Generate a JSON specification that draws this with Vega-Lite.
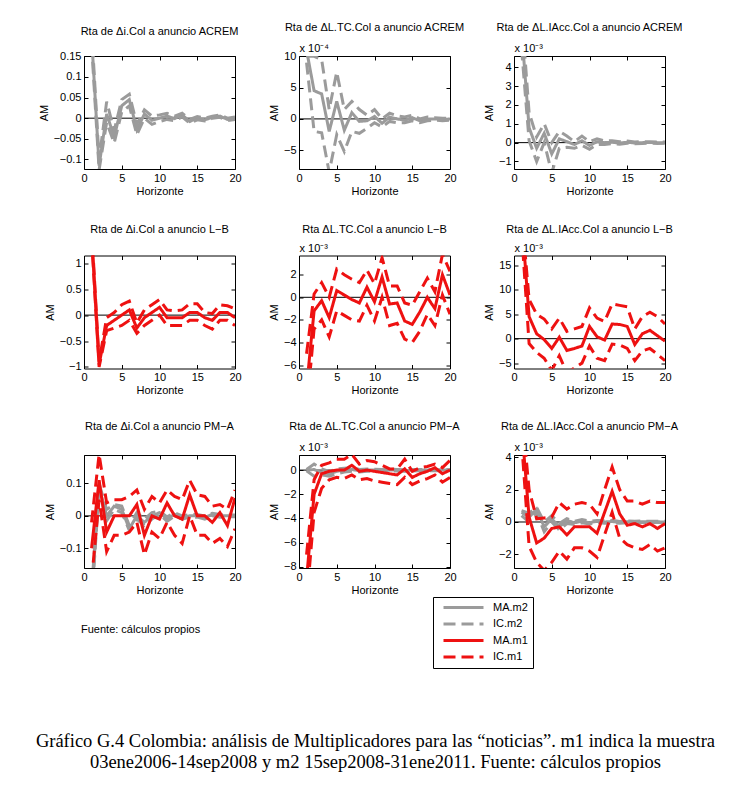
{
  "$schema": "https://vega.github.io/schema/vega-lite/v6.json",
  "background": "white",
  "padding": {"left": 35, "top": 21, "right": 5, "bottom": 5},
  "title": {
    "text": ["Gráfico G.4 Colombia: análisis de Multiplicadores para las “noticias”. m1 indica la muestra", "03ene2006-14sep2008 y m2 15sep2008-31ene2011. Fuente: cálculos propios"],
    "orient": "bottom", "anchor": "middle", "font": "Liberation Serif", "fontSize": 18.5, "fontWeight": "normal", "color": "black", "offset": 63, "lineHeight": 21, "dx": 15
  },
  "datasets": {
    "p11": [
      {"h":1,"ma2":0.2,"lo2":0.18,"up2":0.22},{"h":2,"ma2":-0.115,"lo2":-0.125,"up2":-0.1},{"h":3,"ma2":0.01,"lo2":-0.01,"up2":0.04},{"h":4,"ma2":-0.045,"lo2":-0.06,"up2":-0.03},{"h":5,"ma2":0.03,"lo2":0.015,"up2":0.045},{"h":6,"ma2":0.045,"lo2":0.03,"up2":0.058},{"h":7,"ma2":-0.028,"lo2":-0.04,"up2":-0.015},{"h":8,"ma2":0.01,"lo2":0.0,"up2":0.02},{"h":9,"ma2":-0.005,"lo2":-0.015,"up2":0.005},{"h":10,"ma2":0.0,"lo2":-0.008,"up2":0.008},
      {"h":11,"ma2":0.005,"lo2":-0.003,"up2":0.012},{"h":12,"ma2":-0.001,"lo2":-0.006,"up2":0.005},{"h":13,"ma2":0.008,"lo2":0.003,"up2":0.012},{"h":14,"ma2":-0.008,"lo2":-0.012,"up2":-0.003},{"h":15,"ma2":0.0,"lo2":-0.004,"up2":0.004},{"h":16,"ma2":-0.004,"lo2":-0.007,"up2":0.0},{"h":17,"ma2":0.002,"lo2":0.0,"up2":0.005},{"h":18,"ma2":0.005,"lo2":0.002,"up2":0.008},{"h":19,"ma2":-0.003,"lo2":-0.006,"up2":0.0},{"h":20,"ma2":0.0,"lo2":-0.003,"up2":0.003}
    ],
    "p12": [
      {"h":1,"ma2":11,"lo2":9,"up2":10},{"h":2,"ma2":4.5,"lo2":-2,"up2":10},{"h":3,"ma2":4.0,"lo2":-2.2,"up2":9.5},{"h":4,"ma2":-2.0,"lo2":-8.5,"up2":1.5},{"h":5,"ma2":2.8,"lo2":-2.5,"up2":7.5},{"h":6,"ma2":-1.8,"lo2":-5.2,"up2":1.5},{"h":7,"ma2":1.0,"lo2":-2.0,"up2":2.8},{"h":8,"ma2":-0.4,"lo2":-2.3,"up2":1.5},{"h":9,"ma2":-0.3,"lo2":-1.5,"up2":0.6},{"h":10,"ma2":0.4,"lo2":-0.6,"up2":1.5},
      {"h":11,"ma2":-0.7,"lo2":-1.3,"up2":0.0},{"h":12,"ma2":0.3,"lo2":-0.4,"up2":0.9},{"h":13,"ma2":0.0,"lo2":-0.6,"up2":0.5},{"h":14,"ma2":-0.2,"lo2":-0.6,"up2":0.3},{"h":15,"ma2":0.2,"lo2":-0.3,"up2":0.6},{"h":16,"ma2":-0.3,"lo2":-0.6,"up2":0.0},{"h":17,"ma2":0.0,"lo2":-0.3,"up2":0.3},{"h":18,"ma2":0.0,"lo2":-0.2,"up2":0.2},{"h":19,"ma2":-0.1,"lo2":-0.3,"up2":0.1},{"h":20,"ma2":0.0,"lo2":-0.2,"up2":0.1}
    ],
    "p13": [
      {"h":1,"ma2":6,"lo2":5,"up2":7},{"h":2,"ma2":0.8,"lo2":0.1,"up2":1.6},{"h":3,"ma2":-0.3,"lo2":-1.0,"up2":0.3},{"h":4,"ma2":0.5,"lo2":0.0,"up2":1.0},{"h":5,"ma2":-0.6,"lo2":-1.6,"up2":0.0},{"h":6,"ma2":0.2,"lo2":-0.3,"up2":0.6},{"h":7,"ma2":0.05,"lo2":-0.25,"up2":0.35},{"h":8,"ma2":-0.1,"lo2":-0.3,"up2":0.05},{"h":9,"ma2":0.1,"lo2":-0.15,"up2":0.35},{"h":10,"ma2":-0.15,"lo2":-0.35,"up2":0.05},
      {"h":11,"ma2":0.05,"lo2":-0.1,"up2":0.2},{"h":12,"ma2":0.0,"lo2":-0.1,"up2":0.1},{"h":13,"ma2":0.02,"lo2":-0.05,"up2":0.1},{"h":14,"ma2":-0.02,"lo2":-0.08,"up2":0.05},{"h":15,"ma2":0.02,"lo2":-0.03,"up2":0.08},{"h":16,"ma2":-0.02,"lo2":-0.06,"up2":0.03},{"h":17,"ma2":0.0,"lo2":-0.04,"up2":0.05},{"h":18,"ma2":0.01,"lo2":-0.03,"up2":0.05},{"h":19,"ma2":0.0,"lo2":-0.04,"up2":0.03},{"h":20,"ma2":0.0,"lo2":-0.03,"up2":0.03}
    ],
    "p21": [
      {"h":1,"ma1":1.6,"lo1":1.5,"up1":1.7},{"h":2,"ma1":-0.95,"lo1":-1.0,"up1":-0.9},{"h":3,"ma1":-0.2,"lo1":-0.3,"up1":-0.05},{"h":4,"ma1":-0.1,"lo1":-0.25,"up1":0.05},{"h":5,"ma1":0.0,"lo1":-0.2,"up1":0.2},{"h":6,"ma1":0.1,"lo1":-0.1,"up1":0.27},{"h":7,"ma1":-0.25,"lo1":-0.35,"up1":-0.15},{"h":8,"ma1":-0.05,"lo1":-0.2,"up1":0.1},{"h":9,"ma1":0.05,"lo1":-0.1,"up1":0.2},{"h":10,"ma1":0.15,"lo1":0.0,"up1":0.3},
      {"h":11,"ma1":-0.05,"lo1":-0.2,"up1":0.1},{"h":12,"ma1":-0.05,"lo1":-0.2,"up1":0.08},{"h":13,"ma1":-0.05,"lo1":-0.2,"up1":0.1},{"h":14,"ma1":0.05,"lo1":-0.1,"up1":0.22},{"h":15,"ma1":0.05,"lo1":-0.1,"up1":0.22},{"h":16,"ma1":-0.05,"lo1":-0.2,"up1":0.05},{"h":17,"ma1":-0.1,"lo1":-0.27,"up1":0.03},{"h":18,"ma1":0.05,"lo1":-0.1,"up1":0.2},{"h":19,"ma1":0.05,"lo1":-0.1,"up1":0.18},{"h":20,"ma1":-0.05,"lo1":-0.2,"up1":0.12}
    ],
    "p22": [
      {"h":1,"ma1":-8,"lo1":-10,"up1":-5},{"h":2,"ma1":-1.2,"lo1":-2.8,"up1":0.3},{"h":3,"ma1":-0.3,"lo1":-2.0,"up1":1.3},{"h":4,"ma1":-1.8,"lo1":-3.5,"up1":0.0},{"h":5,"ma1":0.6,"lo1":-1.2,"up1":2.5},{"h":6,"ma1":0.2,"lo1":-1.6,"up1":2.0},{"h":7,"ma1":-0.2,"lo1":-2.0,"up1":1.6},{"h":8,"ma1":-0.5,"lo1":-2.1,"up1":1.3},{"h":9,"ma1":0.9,"lo1":-0.7,"up1":2.4},{"h":10,"ma1":-0.4,"lo1":-2.1,"up1":1.2},
      {"h":11,"ma1":1.8,"lo1":0.0,"up1":3.5},{"h":12,"ma1":-0.6,"lo1":-2.5,"up1":1.0},{"h":13,"ma1":-0.5,"lo1":-2.3,"up1":1.0},{"h":14,"ma1":-2.1,"lo1":-3.7,"up1":-0.5},{"h":15,"ma1":-2.4,"lo1":-4.0,"up1":-0.7},{"h":16,"ma1":-1.3,"lo1":-3.0,"up1":0.5},{"h":17,"ma1":0.0,"lo1":-1.5,"up1":1.7},{"h":18,"ma1":-1.0,"lo1":-2.5,"up1":0.5},{"h":19,"ma1":2.0,"lo1":0.2,"up1":3.8},{"h":20,"ma1":0.2,"lo1":-1.5,"up1":2.3}
    ],
    "p23": [
      {"h":1,"ma1":25,"lo1":22,"up1":26},{"h":2,"ma1":4.5,"lo1":-1,"up1":8},{"h":3,"ma1":1.0,"lo1":-2.8,"up1":5},{"h":4,"ma1":-0.2,"lo1":-4,"up1":4},{"h":5,"ma1":-2.0,"lo1":-6.5,"up1":2},{"h":6,"ma1":0.3,"lo1":-3.5,"up1":4.2},{"h":7,"ma1":-2.4,"lo1":-7,"up1":1.5},{"h":8,"ma1":-2.0,"lo1":-6,"up1":2},{"h":9,"ma1":-1.5,"lo1":-5,"up1":2.5},{"h":10,"ma1":2.5,"lo1":-1.5,"up1":6.3},
      {"h":11,"ma1":0.4,"lo1":-4,"up1":4.2},{"h":12,"ma1":-0.3,"lo1":-4.5,"up1":3.5},{"h":13,"ma1":3.0,"lo1":-1.1,"up1":7.1},{"h":14,"ma1":2.9,"lo1":-1.3,"up1":6.8},{"h":15,"ma1":2.5,"lo1":-2,"up1":6.5},{"h":16,"ma1":-1.2,"lo1":-4.5,"up1":2},{"h":17,"ma1":1.0,"lo1":-2.5,"up1":4.5},{"h":18,"ma1":1.7,"lo1":-2,"up1":5.4},{"h":19,"ma1":0.6,"lo1":-3.2,"up1":4.5},{"h":20,"ma1":-0.5,"lo1":-4.5,"up1":3}
    ],
    "p31": [
      {"h":1,"ma2":-0.25,"lo2":-0.27,"up2":-0.23,"ma1":-0.1,"lo1":-0.2,"up1":-0.02},{"h":2,"ma2":0.09,"lo2":0.08,"up2":0.1,"ma1":0.11,"lo1":0.05,"up1":0.19},{"h":3,"ma2":0.0,"lo2":-0.015,"up2":0.02,"ma1":-0.05,"lo1":-0.11,"up1":0.04},{"h":4,"ma2":0.03,"lo2":0.02,"up2":0.035,"ma1":0.0,"lo1":-0.06,"up1":0.05},{"h":5,"ma2":0.02,"lo2":0.01,"up2":0.03,"ma1":0.0,"lo1":-0.06,"up1":0.05},
      {"h":6,"ma2":-0.04,"lo2":-0.045,"up2":-0.03,"ma1":0.0,"lo1":-0.05,"up1":0.06},{"h":7,"ma2":0.0,"lo2":-0.01,"up2":0.01,"ma1":0.035,"lo1":-0.02,"up1":0.08},{"h":8,"ma2":-0.02,"lo2":-0.03,"up2":-0.01,"ma1":-0.06,"lo1":-0.12,"up1":0.02},{"h":9,"ma2":0.0,"lo2":-0.01,"up2":0.01,"ma1":0.0,"lo1":-0.05,"up1":0.06},{"h":10,"ma2":0.01,"lo2":0.005,"up2":0.015,"ma1":-0.01,"lo1":-0.07,"up1":0.04},
      {"h":11,"ma2":-0.01,"lo2":-0.017,"up2":-0.003,"ma1":0.04,"lo1":-0.02,"up1":0.08},{"h":12,"ma2":0.005,"lo2":0.0,"up2":0.01,"ma1":0.0,"lo1":-0.06,"up1":0.06},{"h":13,"ma2":-0.005,"lo2":-0.01,"up2":0.0,"ma1":-0.01,"lo1":-0.085,"up1":0.05},{"h":14,"ma2":0.0,"lo2":-0.004,"up2":0.004,"ma1":0.065,"lo1":0.0,"up1":0.11},{"h":15,"ma2":0.0,"lo2":-0.004,"up2":0.004,"ma1":0.0,"lo1":-0.06,"up1":0.065},
      {"h":16,"ma2":-0.005,"lo2":-0.01,"up2":0.0,"ma1":0.0,"lo1":-0.06,"up1":0.06},{"h":17,"ma2":0.005,"lo2":0.0,"up2":0.008,"ma1":-0.02,"lo1":-0.085,"up1":0.03},{"h":18,"ma2":0.0,"lo2":-0.004,"up2":0.004,"ma1":0.01,"lo1":-0.07,"up1":0.035},{"h":19,"ma2":0.0,"lo2":-0.003,"up2":0.003,"ma1":-0.03,"lo1":-0.095,"up1":0.02},{"h":20,"ma2":0.0,"lo2":-0.003,"up2":0.003,"ma1":0.055,"lo1":-0.04,"up1":0.08}
    ],
    "p32": [
      {"h":1,"ma2":0.0,"lo2":-0.05,"up2":0.05,"ma1":-9,"lo1":-11,"up1":-7},{"h":2,"ma2":0.05,"lo2":-0.5,"up2":0.5,"ma1":-2.0,"lo1":-3.5,"up1":-0.8},{"h":3,"ma2":-0.2,"lo2":-0.4,"up2":0.1,"ma1":-0.3,"lo1":-1.5,"up1":0.4},{"h":4,"ma2":-0.3,"lo2":-0.5,"up2":-0.1,"ma1":-0.1,"lo1":-0.8,"up1":0.6},{"h":5,"ma2":-0.1,"lo2":-0.3,"up2":0.1,"ma1":0.0,"lo1":-0.6,"up1":0.9},
      {"h":6,"ma2":0.0,"lo2":-0.15,"up2":0.15,"ma1":0.0,"lo1":-0.7,"up1":0.9},{"h":7,"ma2":0.05,"lo2":-0.1,"up2":0.2,"ma1":0.4,"lo1":-0.4,"up1":1.3},{"h":8,"ma2":-0.05,"lo2":-0.15,"up2":0.05,"ma1":-0.1,"lo1":-0.8,"up1":0.5},{"h":9,"ma2":0.0,"lo2":-0.1,"up2":0.1,"ma1":0.0,"lo1":-0.7,"up1":0.8},{"h":10,"ma2":0.0,"lo2":-0.1,"up2":0.08,"ma1":-0.1,"lo1":-0.9,"up1":0.7},
      {"h":11,"ma2":-0.05,"lo2":-0.12,"up2":0.05,"ma1":-0.2,"lo1":-1.0,"up1":0.4},{"h":12,"ma2":0.0,"lo2":-0.08,"up2":0.08,"ma1":-0.3,"lo1":-1.1,"up1":0.1},{"h":13,"ma2":0.0,"lo2":-0.08,"up2":0.06,"ma1":-0.4,"lo1":-1.2,"up1":0.1},{"h":14,"ma2":-0.05,"lo2":-0.1,"up2":0.03,"ma1":0.1,"lo1":-0.6,"up1":0.9},{"h":15,"ma2":0.0,"lo2":-0.07,"up2":0.06,"ma1":-0.6,"lo1":-1.2,"up1":-0.1},
      {"h":16,"ma2":0.0,"lo2":-0.06,"up2":0.05,"ma1":-0.3,"lo1":-0.9,"up1":0.2},{"h":17,"ma2":0.0,"lo2":-0.05,"up2":0.05,"ma1":-0.1,"lo1":-0.7,"up1":0.3},{"h":18,"ma2":-0.02,"lo2":-0.06,"up2":0.03,"ma1":0.2,"lo1":-0.4,"up1":0.5},{"h":19,"ma2":0.0,"lo2":-0.05,"up2":0.04,"ma1":-0.3,"lo1":-1.0,"up1":0.2},{"h":20,"ma2":0.0,"lo2":-0.04,"up2":0.04,"ma1":0.0,"lo1":-0.6,"up1":0.8}
    ],
    "p33": [
      {"h":1,"ma2":0.6,"lo2":0.4,"up2":0.7,"ma1":6,"lo1":5,"up1":7},{"h":2,"ma2":0.3,"lo2":0.0,"up2":0.55,"ma1":0.3,"lo1":-1.5,"up1":2.0},{"h":3,"ma2":0.8,"lo2":0.6,"up2":0.9,"ma1":-1.3,"lo1":-2.5,"up1":0.2},{"h":4,"ma2":-0.3,"lo2":-0.6,"up2":0.0,"ma1":-1.0,"lo1":-3.0,"up1":0.25},{"h":5,"ma2":0.2,"lo2":0.0,"up2":0.4,"ma1":-0.4,"lo1":-2.5,"up1":0.3},
      {"h":6,"ma2":-0.3,"lo2":-0.5,"up2":-0.1,"ma1":-0.3,"lo1":-1.8,"up1":1.2},{"h":7,"ma2":0.1,"lo2":-0.1,"up2":0.2,"ma1":-0.8,"lo1":-2.3,"up1":0.8},{"h":8,"ma2":-0.05,"lo2":-0.15,"up2":0.05,"ma1":-0.3,"lo1":-1.6,"up1":1.1},{"h":9,"ma2":0.05,"lo2":-0.05,"up2":0.15,"ma1":-0.3,"lo1":-1.6,"up1":1.2},{"h":10,"ma2":-0.05,"lo2":-0.12,"up2":0.05,"ma1":-0.3,"lo1":-1.8,"up1":1.1},
      {"h":11,"ma2":0.05,"lo2":-0.05,"up2":0.1,"ma1":-0.7,"lo1":-2.2,"up1":0.5},{"h":12,"ma2":0.0,"lo2":-0.08,"up2":0.08,"ma1":0.6,"lo1":-0.8,"up1":2.0},{"h":13,"ma2":0.03,"lo2":-0.05,"up2":0.1,"ma1":1.9,"lo1":0.6,"up1":3.4},{"h":14,"ma2":-0.03,"lo2":-0.08,"up2":0.03,"ma1":0.5,"lo1":-1.0,"up1":2.0},{"h":15,"ma2":0.02,"lo2":-0.04,"up2":0.07,"ma1":-0.2,"lo1":-1.4,"up1":1.3},
      {"h":16,"ma2":0.0,"lo2":-0.05,"up2":0.05,"ma1":-0.1,"lo1":-1.6,"up1":1.3},{"h":17,"ma2":0.02,"lo2":-0.03,"up2":0.06,"ma1":-0.3,"lo1":-1.7,"up1":1.1},{"h":18,"ma2":0.0,"lo2":-0.04,"up2":0.04,"ma1":-0.1,"lo1":-1.4,"up1":1.3},{"h":19,"ma2":0.01,"lo2":-0.03,"up2":0.05,"ma1":-0.4,"lo1":-1.8,"up1":1.2},{"h":20,"ma2":0.0,"lo2":-0.03,"up2":0.04,"ma1":-0.1,"lo1":-1.6,"up1":1.2}
    ]
  },
  "vconcat": [
    {
      "title": {"text": "Fuente: cálculos propios", "orient": "bottom", "anchor": "start", "frame": "group", "fontSize": 11, "fontWeight": "normal", "offset": 28, "dx": -3},
      "columns": 3,
      "spacing": {"row": 86.5, "column": 64},
      "bounds": "flush",
      "concat": [
        {
          "width": 151, "height": 113,
          "title": {"text": "Rta de Δi.Col a anuncio ACREM", "offset": 13},
          "layer": [
            {"data": {"values": [{}]}, "mark": {"type": "rule", "color": "black", "strokeWidth": 1},
             "encoding": {
               "x": {"datum": 0, "type": "quantitative", "scale": {"domain": [0, 20], "nice": false, "zero": false}, "axis": {"orient": "top", "values": [0, 5, 10, 15, 20], "labels": false, "title": null}},
               "x2": {"datum": 20},
               "y": {"datum": 0, "type": "quantitative", "scale": {"domain": [-0.123, 0.1505], "nice": false, "zero": false}, "axis": {"orient": "right", "values": [-0.1, -0.05, 0, 0.05, 0.1, 0.15], "labels": false, "title": null}}}},
            {"data": {"name": "p11"}, "transform": [{"fold": ["ma2", "lo2", "up2"], "as": ["k", "v"]}],
             "mark": {"type": "line", "strokeWidth": 3, "clip": true},
             "encoding": {
               "x": {"field": "h", "type": "quantitative", "scale": {"domain": [0, 20], "nice": false, "zero": false}, "axis": {"orient": "bottom", "values": [0, 5, 10, 15, 20], "title": "Horizonte", "labelFlush": false, "titlePadding": 2}},
               "y": {"field": "v", "type": "quantitative", "scale": {"domain": [-0.123, 0.1505], "nice": false, "zero": false}, "axis": {"orient": "left", "values": [-0.1, -0.05, 0, 0.05, 0.1, 0.15], "format": "~r", "title": "AM", "titlePadding": 4}},
               "color": {"field": "k", "type": "nominal", "scale": {"domain": ["ma2", "lo2", "up2", "ma1", "lo1", "up1"], "range": ["#9b9b9b", "#9b9b9b", "#9b9b9b", "#ee1111", "#ee1111", "#ee1111"]}, "legend": {"title": null, "values": ["ma2", "lo2", "ma1", "lo1"], "labelExpr": "datum.label == 'ma2' ? 'MA.m2' : datum.label == 'lo2' ? 'IC.m2' : datum.label == 'ma1' ? 'MA.m1' : 'IC.m1'"}},
               "strokeDash": {"field": "k", "type": "nominal", "scale": {"domain": ["ma2", "lo2", "up2", "ma1", "lo1", "up1"], "range": [[1, 0], [12, 6], [12, 6], [1, 0], [12, 6], [12, 6]]}, "legend": {"title": null, "values": ["ma2", "lo2", "ma1", "lo1"], "labelExpr": "datum.label == 'ma2' ? 'MA.m2' : datum.label == 'lo2' ? 'IC.m2' : datum.label == 'ma1' ? 'MA.m1' : 'IC.m1'"}}}}
          ],
          "resolve": {"axis": {"x": "independent", "y": "independent"}}
        },
        {
          "width": 151, "height": 113,
          "title": {"text": "Rta de ΔL.TC.Col a anuncio ACREM", "offset": 10},
          "layer": [
            {"data": {"values": [{}]}, "mark": {"type": "rule", "color": "black", "strokeWidth": 1},
             "encoding": {
               "x": {"datum": 0, "type": "quantitative", "scale": {"domain": [0, 20], "nice": false, "zero": false}, "axis": {"orient": "top", "values": [0, 5, 10, 15, 20], "labels": false, "title": "x 10⁻⁴", "titleAnchor": "start", "titleAlign": "left", "titlePadding": 2}},
               "x2": {"datum": 20},
               "y": {"datum": 0, "type": "quantitative", "scale": {"domain": [-8, 10.05], "nice": false, "zero": false}, "axis": {"orient": "right", "values": [-5, 0, 5, 10], "labels": false, "title": null}}}},
            {"data": {"name": "p12"}, "transform": [{"fold": ["ma2", "lo2", "up2"], "as": ["k", "v"]}],
             "mark": {"type": "line", "strokeWidth": 3, "clip": true},
             "encoding": {
               "x": {"field": "h", "type": "quantitative", "scale": {"domain": [0, 20], "nice": false, "zero": false}, "axis": {"orient": "bottom", "values": [0, 5, 10, 15, 20], "title": "Horizonte", "labelFlush": false, "titlePadding": 2}},
               "y": {"field": "v", "type": "quantitative", "scale": {"domain": [-8, 10.05], "nice": false, "zero": false}, "axis": {"orient": "left", "values": [-5, 0, 5, 10], "format": "~r", "title": "AM", "titlePadding": 4}},
               "color": {"field": "k", "type": "nominal", "scale": {"domain": ["ma2", "lo2", "up2", "ma1", "lo1", "up1"], "range": ["#9b9b9b", "#9b9b9b", "#9b9b9b", "#ee1111", "#ee1111", "#ee1111"]}, "legend": {"title": null, "values": ["ma2", "lo2", "ma1", "lo1"], "labelExpr": "datum.label == 'ma2' ? 'MA.m2' : datum.label == 'lo2' ? 'IC.m2' : datum.label == 'ma1' ? 'MA.m1' : 'IC.m1'"}},
               "strokeDash": {"field": "k", "type": "nominal", "scale": {"domain": ["ma2", "lo2", "up2", "ma1", "lo1", "up1"], "range": [[1, 0], [12, 6], [12, 6], [1, 0], [12, 6], [12, 6]]}, "legend": {"title": null, "values": ["ma2", "lo2", "ma1", "lo1"], "labelExpr": "datum.label == 'ma2' ? 'MA.m2' : datum.label == 'lo2' ? 'IC.m2' : datum.label == 'ma1' ? 'MA.m1' : 'IC.m1'"}}}}
          ],
          "resolve": {"axis": {"x": "independent", "y": "independent"}}
        },
        {
          "width": 151, "height": 113,
          "title": {"text": "Rta de ΔL.IAcc.Col a anuncio ACREM", "offset": 10},
          "layer": [
            {"data": {"values": [{}]}, "mark": {"type": "rule", "color": "black", "strokeWidth": 1},
             "encoding": {
               "x": {"datum": 0, "type": "quantitative", "scale": {"domain": [0, 20], "nice": false, "zero": false}, "axis": {"orient": "top", "values": [0, 5, 10, 15, 20], "labels": false, "title": "x 10⁻³", "titleAnchor": "start", "titleAlign": "left", "titlePadding": 2}},
               "x2": {"datum": 20},
               "y": {"datum": 0, "type": "quantitative", "scale": {"domain": [-1.4, 4.6], "nice": false, "zero": false}, "axis": {"orient": "right", "values": [-1, 0, 1, 2, 3, 4], "labels": false, "title": null}}}},
            {"data": {"name": "p13"}, "transform": [{"fold": ["ma2", "lo2", "up2"], "as": ["k", "v"]}],
             "mark": {"type": "line", "strokeWidth": 3, "clip": true},
             "encoding": {
               "x": {"field": "h", "type": "quantitative", "scale": {"domain": [0, 20], "nice": false, "zero": false}, "axis": {"orient": "bottom", "values": [0, 5, 10, 15, 20], "title": "Horizonte", "labelFlush": false, "titlePadding": 2}},
               "y": {"field": "v", "type": "quantitative", "scale": {"domain": [-1.4, 4.6], "nice": false, "zero": false}, "axis": {"orient": "left", "values": [-1, 0, 1, 2, 3, 4], "format": "~r", "title": "AM", "titlePadding": 4}},
               "color": {"field": "k", "type": "nominal", "scale": {"domain": ["ma2", "lo2", "up2", "ma1", "lo1", "up1"], "range": ["#9b9b9b", "#9b9b9b", "#9b9b9b", "#ee1111", "#ee1111", "#ee1111"]}, "legend": {"title": null, "values": ["ma2", "lo2", "ma1", "lo1"], "labelExpr": "datum.label == 'ma2' ? 'MA.m2' : datum.label == 'lo2' ? 'IC.m2' : datum.label == 'ma1' ? 'MA.m1' : 'IC.m1'"}},
               "strokeDash": {"field": "k", "type": "nominal", "scale": {"domain": ["ma2", "lo2", "up2", "ma1", "lo1", "up1"], "range": [[1, 0], [12, 6], [12, 6], [1, 0], [12, 6], [12, 6]]}, "legend": {"title": null, "values": ["ma2", "lo2", "ma1", "lo1"], "labelExpr": "datum.label == 'ma2' ? 'MA.m2' : datum.label == 'lo2' ? 'IC.m2' : datum.label == 'ma1' ? 'MA.m1' : 'IC.m1'"}}}}
          ],
          "resolve": {"axis": {"x": "independent", "y": "independent"}}
        },
        {
          "width": 151, "height": 113,
          "title": {"text": "Rta de Δi.Col a anuncio L−B", "offset": 20},
          "layer": [
            {"data": {"values": [{}]}, "mark": {"type": "rule", "color": "black", "strokeWidth": 1},
             "encoding": {
               "x": {"datum": 0, "type": "quantitative", "scale": {"domain": [0, 20], "nice": false, "zero": false}, "axis": {"orient": "top", "values": [0, 5, 10, 15, 20], "labels": false, "title": null}},
               "x2": {"datum": 20},
               "y": {"datum": 0, "type": "quantitative", "scale": {"domain": [-1.03, 1.15], "nice": false, "zero": false}, "axis": {"orient": "right", "values": [-1, -0.5, 0, 0.5, 1], "labels": false, "title": null}}}},
            {"data": {"name": "p21"}, "transform": [{"fold": ["ma1", "lo1", "up1"], "as": ["k", "v"]}],
             "mark": {"type": "line", "strokeWidth": 3, "clip": true},
             "encoding": {
               "x": {"field": "h", "type": "quantitative", "scale": {"domain": [0, 20], "nice": false, "zero": false}, "axis": {"orient": "bottom", "values": [0, 5, 10, 15, 20], "title": "Horizonte", "labelFlush": false, "titlePadding": 2}},
               "y": {"field": "v", "type": "quantitative", "scale": {"domain": [-1.03, 1.15], "nice": false, "zero": false}, "axis": {"orient": "left", "values": [-1, -0.5, 0, 0.5, 1], "format": "~r", "title": "AM", "titlePadding": 4}},
               "color": {"field": "k", "type": "nominal", "scale": {"domain": ["ma2", "lo2", "up2", "ma1", "lo1", "up1"], "range": ["#9b9b9b", "#9b9b9b", "#9b9b9b", "#ee1111", "#ee1111", "#ee1111"]}, "legend": {"title": null, "values": ["ma2", "lo2", "ma1", "lo1"], "labelExpr": "datum.label == 'ma2' ? 'MA.m2' : datum.label == 'lo2' ? 'IC.m2' : datum.label == 'ma1' ? 'MA.m1' : 'IC.m1'"}},
               "strokeDash": {"field": "k", "type": "nominal", "scale": {"domain": ["ma2", "lo2", "up2", "ma1", "lo1", "up1"], "range": [[1, 0], [12, 6], [12, 6], [1, 0], [12, 6], [12, 6]]}, "legend": {"title": null, "values": ["ma2", "lo2", "ma1", "lo1"], "labelExpr": "datum.label == 'ma2' ? 'MA.m2' : datum.label == 'lo2' ? 'IC.m2' : datum.label == 'ma1' ? 'MA.m1' : 'IC.m1'"}}}}
          ],
          "resolve": {"axis": {"x": "independent", "y": "independent"}}
        },
        {
          "width": 151, "height": 113,
          "title": {"text": "Rta ΔL.TC.Col a anuncio L−B", "offset": 7},
          "layer": [
            {"data": {"values": [{}]}, "mark": {"type": "rule", "color": "black", "strokeWidth": 1},
             "encoding": {
               "x": {"datum": 0, "type": "quantitative", "scale": {"domain": [0, 20], "nice": false, "zero": false}, "axis": {"orient": "top", "values": [0, 5, 10, 15, 20], "labels": false, "title": "x 10⁻³", "titleAnchor": "start", "titleAlign": "left", "titlePadding": 2}},
               "x2": {"datum": 20},
               "y": {"datum": 0, "type": "quantitative", "scale": {"domain": [-6.3, 3.7], "nice": false, "zero": false}, "axis": {"orient": "right", "values": [-6, -4, -2, 0, 2], "labels": false, "title": null}}}},
            {"data": {"name": "p22"}, "transform": [{"fold": ["ma1", "lo1", "up1"], "as": ["k", "v"]}],
             "mark": {"type": "line", "strokeWidth": 3, "clip": true},
             "encoding": {
               "x": {"field": "h", "type": "quantitative", "scale": {"domain": [0, 20], "nice": false, "zero": false}, "axis": {"orient": "bottom", "values": [0, 5, 10, 15, 20], "title": "Horizonte", "labelFlush": false, "titlePadding": 2}},
               "y": {"field": "v", "type": "quantitative", "scale": {"domain": [-6.3, 3.7], "nice": false, "zero": false}, "axis": {"orient": "left", "values": [-6, -4, -2, 0, 2], "format": "~r", "title": "AM", "titlePadding": 4}},
               "color": {"field": "k", "type": "nominal", "scale": {"domain": ["ma2", "lo2", "up2", "ma1", "lo1", "up1"], "range": ["#9b9b9b", "#9b9b9b", "#9b9b9b", "#ee1111", "#ee1111", "#ee1111"]}, "legend": {"title": null, "values": ["ma2", "lo2", "ma1", "lo1"], "labelExpr": "datum.label == 'ma2' ? 'MA.m2' : datum.label == 'lo2' ? 'IC.m2' : datum.label == 'ma1' ? 'MA.m1' : 'IC.m1'"}},
               "strokeDash": {"field": "k", "type": "nominal", "scale": {"domain": ["ma2", "lo2", "up2", "ma1", "lo1", "up1"], "range": [[1, 0], [12, 6], [12, 6], [1, 0], [12, 6], [12, 6]]}, "legend": {"title": null, "values": ["ma2", "lo2", "ma1", "lo1"], "labelExpr": "datum.label == 'ma2' ? 'MA.m2' : datum.label == 'lo2' ? 'IC.m2' : datum.label == 'ma1' ? 'MA.m1' : 'IC.m1'"}}}}
          ],
          "resolve": {"axis": {"x": "independent", "y": "independent"}}
        },
        {
          "width": 151, "height": 113,
          "title": {"text": "Rta de ΔL.IAcc.Col a anuncio L−B", "offset": 7},
          "layer": [
            {"data": {"values": [{}]}, "mark": {"type": "rule", "color": "black", "strokeWidth": 1},
             "encoding": {
               "x": {"datum": 0, "type": "quantitative", "scale": {"domain": [0, 20], "nice": false, "zero": false}, "axis": {"orient": "top", "values": [0, 5, 10, 15, 20], "labels": false, "title": "x 10⁻³", "titleAnchor": "start", "titleAlign": "left", "titlePadding": 2}},
               "x2": {"datum": 20},
               "y": {"datum": 0, "type": "quantitative", "scale": {"domain": [-6.1, 17], "nice": false, "zero": false}, "axis": {"orient": "right", "values": [-5, 0, 5, 10, 15], "labels": false, "title": null}}}},
            {"data": {"name": "p23"}, "transform": [{"fold": ["ma1", "lo1", "up1"], "as": ["k", "v"]}],
             "mark": {"type": "line", "strokeWidth": 3, "clip": true},
             "encoding": {
               "x": {"field": "h", "type": "quantitative", "scale": {"domain": [0, 20], "nice": false, "zero": false}, "axis": {"orient": "bottom", "values": [0, 5, 10, 15, 20], "title": "Horizonte", "labelFlush": false, "titlePadding": 2}},
               "y": {"field": "v", "type": "quantitative", "scale": {"domain": [-6.1, 17], "nice": false, "zero": false}, "axis": {"orient": "left", "values": [-5, 0, 5, 10, 15], "format": "~r", "title": "AM", "titlePadding": 4}},
               "color": {"field": "k", "type": "nominal", "scale": {"domain": ["ma2", "lo2", "up2", "ma1", "lo1", "up1"], "range": ["#9b9b9b", "#9b9b9b", "#9b9b9b", "#ee1111", "#ee1111", "#ee1111"]}, "legend": {"title": null, "values": ["ma2", "lo2", "ma1", "lo1"], "labelExpr": "datum.label == 'ma2' ? 'MA.m2' : datum.label == 'lo2' ? 'IC.m2' : datum.label == 'ma1' ? 'MA.m1' : 'IC.m1'"}},
               "strokeDash": {"field": "k", "type": "nominal", "scale": {"domain": ["ma2", "lo2", "up2", "ma1", "lo1", "up1"], "range": [[1, 0], [12, 6], [12, 6], [1, 0], [12, 6], [12, 6]]}, "legend": {"title": null, "values": ["ma2", "lo2", "ma1", "lo1"], "labelExpr": "datum.label == 'ma2' ? 'MA.m2' : datum.label == 'lo2' ? 'IC.m2' : datum.label == 'ma1' ? 'MA.m1' : 'IC.m1'"}}}}
          ],
          "resolve": {"axis": {"x": "independent", "y": "independent"}}
        },
        {
          "width": 151, "height": 113,
          "title": {"text": "Rta de Δi.Col a anuncio PM−A", "offset": 23},
          "layer": [
            {"data": {"values": [{}]}, "mark": {"type": "rule", "color": "black", "strokeWidth": 1},
             "encoding": {
               "x": {"datum": 0, "type": "quantitative", "scale": {"domain": [0, 20], "nice": false, "zero": false}, "axis": {"orient": "top", "values": [0, 5, 10, 15, 20], "labels": false, "title": null}},
               "x2": {"datum": 20},
               "y": {"datum": 0, "type": "quantitative", "scale": {"domain": [-0.161, 0.188], "nice": false, "zero": false}, "axis": {"orient": "right", "values": [-0.1, 0, 0.1], "labels": false, "title": null}}}},
            {"data": {"name": "p31"}, "transform": [{"fold": ["ma2", "lo2", "up2", "ma1", "lo1", "up1"], "as": ["k", "v"]}],
             "mark": {"type": "line", "strokeWidth": 3, "clip": true},
             "encoding": {
               "x": {"field": "h", "type": "quantitative", "scale": {"domain": [0, 20], "nice": false, "zero": false}, "axis": {"orient": "bottom", "values": [0, 5, 10, 15, 20], "title": "Horizonte", "labelFlush": false, "titlePadding": 2}},
               "y": {"field": "v", "type": "quantitative", "scale": {"domain": [-0.161, 0.188], "nice": false, "zero": false}, "axis": {"orient": "left", "values": [-0.1, 0, 0.1], "format": "~r", "title": "AM", "titlePadding": 4}},
               "color": {"field": "k", "type": "nominal", "scale": {"domain": ["ma2", "lo2", "up2", "ma1", "lo1", "up1"], "range": ["#9b9b9b", "#9b9b9b", "#9b9b9b", "#ee1111", "#ee1111", "#ee1111"]}, "legend": {"title": null, "values": ["ma2", "lo2", "ma1", "lo1"], "labelExpr": "datum.label == 'ma2' ? 'MA.m2' : datum.label == 'lo2' ? 'IC.m2' : datum.label == 'ma1' ? 'MA.m1' : 'IC.m1'"}},
               "strokeDash": {"field": "k", "type": "nominal", "scale": {"domain": ["ma2", "lo2", "up2", "ma1", "lo1", "up1"], "range": [[1, 0], [12, 6], [12, 6], [1, 0], [12, 6], [12, 6]]}, "legend": {"title": null, "values": ["ma2", "lo2", "ma1", "lo1"], "labelExpr": "datum.label == 'ma2' ? 'MA.m2' : datum.label == 'lo2' ? 'IC.m2' : datum.label == 'ma1' ? 'MA.m1' : 'IC.m1'"}}}}
          ],
          "resolve": {"axis": {"x": "independent", "y": "independent"}}
        },
        {
          "width": 151, "height": 113,
          "title": {"text": "Rta de ΔL.TC.Col a anuncio PM−A", "offset": 10},
          "layer": [
            {"data": {"values": [{}]}, "mark": {"type": "rule", "color": "black", "strokeWidth": 1},
             "encoding": {
               "x": {"datum": 0, "type": "quantitative", "scale": {"domain": [0, 20], "nice": false, "zero": false}, "axis": {"orient": "top", "values": [0, 5, 10, 15, 20], "labels": false, "title": "x 10⁻³", "titleAnchor": "start", "titleAlign": "left", "titlePadding": 2}},
               "x2": {"datum": 20},
               "y": {"datum": 0, "type": "quantitative", "scale": {"domain": [-8.1, 1.25], "nice": false, "zero": false}, "axis": {"orient": "right", "values": [-8, -6, -4, -2, 0], "labels": false, "title": null}}}},
            {"data": {"name": "p32"}, "transform": [{"fold": ["ma2", "lo2", "up2", "ma1", "lo1", "up1"], "as": ["k", "v"]}],
             "mark": {"type": "line", "strokeWidth": 3, "clip": true},
             "encoding": {
               "x": {"field": "h", "type": "quantitative", "scale": {"domain": [0, 20], "nice": false, "zero": false}, "axis": {"orient": "bottom", "values": [0, 5, 10, 15, 20], "title": "Horizonte", "labelFlush": false, "titlePadding": 2}},
               "y": {"field": "v", "type": "quantitative", "scale": {"domain": [-8.1, 1.25], "nice": false, "zero": false}, "axis": {"orient": "left", "values": [-8, -6, -4, -2, 0], "format": "~r", "title": "AM", "titlePadding": 4}},
               "color": {"field": "k", "type": "nominal", "scale": {"domain": ["ma2", "lo2", "up2", "ma1", "lo1", "up1"], "range": ["#9b9b9b", "#9b9b9b", "#9b9b9b", "#ee1111", "#ee1111", "#ee1111"]}, "legend": {"title": null, "values": ["ma2", "lo2", "ma1", "lo1"], "labelExpr": "datum.label == 'ma2' ? 'MA.m2' : datum.label == 'lo2' ? 'IC.m2' : datum.label == 'ma1' ? 'MA.m1' : 'IC.m1'"}},
               "strokeDash": {"field": "k", "type": "nominal", "scale": {"domain": ["ma2", "lo2", "up2", "ma1", "lo1", "up1"], "range": [[1, 0], [12, 6], [12, 6], [1, 0], [12, 6], [12, 6]]}, "legend": {"title": null, "values": ["ma2", "lo2", "ma1", "lo1"], "labelExpr": "datum.label == 'ma2' ? 'MA.m2' : datum.label == 'lo2' ? 'IC.m2' : datum.label == 'ma1' ? 'MA.m1' : 'IC.m1'"}}}}
          ],
          "resolve": {"axis": {"x": "independent", "y": "independent"}}
        },
        {
          "width": 151, "height": 113,
          "title": {"text": "Rta de ΔL.IAcc.Col a anuncio PM−A", "offset": 10},
          "layer": [
            {"data": {"values": [{}]}, "mark": {"type": "rule", "color": "black", "strokeWidth": 1},
             "encoding": {
               "x": {"datum": 0, "type": "quantitative", "scale": {"domain": [0, 20], "nice": false, "zero": false}, "axis": {"orient": "top", "values": [0, 5, 10, 15, 20], "labels": false, "title": "x 10⁻³", "titleAnchor": "start", "titleAlign": "left", "titlePadding": 2}},
               "x2": {"datum": 20},
               "y": {"datum": 0, "type": "quantitative", "scale": {"domain": [-2.85, 4.15], "nice": false, "zero": false}, "axis": {"orient": "right", "values": [-2, 0, 2, 4], "labels": false, "title": null}}}},
            {"data": {"name": "p33"}, "transform": [{"fold": ["ma2", "lo2", "up2", "ma1", "lo1", "up1"], "as": ["k", "v"]}],
             "mark": {"type": "line", "strokeWidth": 3, "clip": true},
             "encoding": {
               "x": {"field": "h", "type": "quantitative", "scale": {"domain": [0, 20], "nice": false, "zero": false}, "axis": {"orient": "bottom", "values": [0, 5, 10, 15, 20], "title": "Horizonte", "labelFlush": false, "titlePadding": 2}},
               "y": {"field": "v", "type": "quantitative", "scale": {"domain": [-2.85, 4.15], "nice": false, "zero": false}, "axis": {"orient": "left", "values": [-2, 0, 2, 4], "format": "~r", "title": "AM", "titlePadding": 4}},
               "color": {"field": "k", "type": "nominal", "scale": {"domain": ["ma2", "lo2", "up2", "ma1", "lo1", "up1"], "range": ["#9b9b9b", "#9b9b9b", "#9b9b9b", "#ee1111", "#ee1111", "#ee1111"]}, "legend": {"title": null, "values": ["ma2", "lo2", "ma1", "lo1"], "labelExpr": "datum.label == 'ma2' ? 'MA.m2' : datum.label == 'lo2' ? 'IC.m2' : datum.label == 'ma1' ? 'MA.m1' : 'IC.m1'"}},
               "strokeDash": {"field": "k", "type": "nominal", "scale": {"domain": ["ma2", "lo2", "up2", "ma1", "lo1", "up1"], "range": [[1, 0], [12, 6], [12, 6], [1, 0], [12, 6], [12, 6]]}, "legend": {"title": null, "values": ["ma2", "lo2", "ma1", "lo1"], "labelExpr": "datum.label == 'ma2' ? 'MA.m2' : datum.label == 'lo2' ? 'IC.m2' : datum.label == 'ma1' ? 'MA.m1' : 'IC.m1'"}}}}
          ],
          "resolve": {"axis": {"x": "independent", "y": "independent"}}
        }
      ]
    }
  ],
  "config": {
    "font": "Liberation Sans",
    "view": {"stroke": "black", "strokeWidth": 1},
    "axis": {"grid": false, "domain": false, "tickColor": "black", "tickSize": -4, "labelPadding": 7, "labelOverlap": false, "labelFontSize": 11, "labelColor": "black", "labelFont": "Liberation Sans", "titleFontSize": 11, "titleFontWeight": "normal", "titleColor": "black", "titleFont": "Liberation Sans"},
    "title": {"font": "Liberation Sans", "fontSize": 11, "fontWeight": "normal", "color": "black"},
    "line": {"strokeCap": "butt"},
    "legend": {"orient": "none", "legendX": 349, "legendY": 541, "strokeColor": "black", "fillColor": "white", "padding": 5, "symbolType": "M0,0H40", "symbolSize": 4, "symbolStrokeWidth": 3, "labelOffset": 44, "labelFontSize": 11, "labelFont": "Liberation Sans", "labelColor": "black", "rowPadding": 3.5}
  }
}
